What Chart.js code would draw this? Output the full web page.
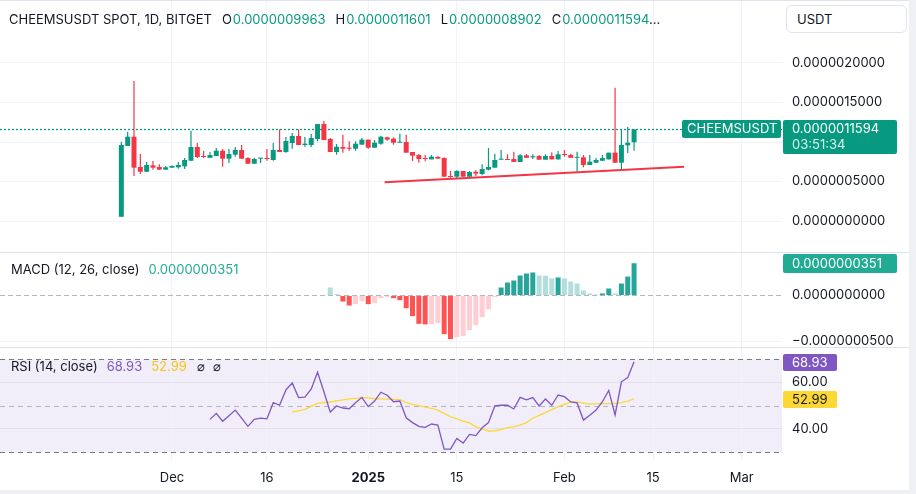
<!DOCTYPE html>
<html><head><meta charset="utf-8">
<script src="https://cdn.jsdelivr.net/npm/chart.js@4.4.1/dist/chart.umd.min.js"></script>
<style>
html,body{margin:0;padding:0}
body{width:916px;height:494px;overflow:hidden;position:relative;background:#eef0f4;font-family:Inter,"Noto Sans",sans-serif}
#panel{position:absolute;left:0;top:0;width:909px;height:490px;background:#fff}
canvas{position:absolute;left:0}
.lbl{position:absolute;font-size:13px;line-height:16px;color:#131722;white-space:nowrap}
.k{margin-left:10px}
.g{color:#089981;margin-left:1px}
.sep{position:absolute;left:0;width:909px;height:1px;background:#e0e3eb}
#unit{position:absolute;left:786px;top:5px;width:121px;height:28px;box-sizing:border-box;border:1px solid #e0e3eb;border-radius:6px;font-size:13px;line-height:26px;padding-left:10px;color:#131722;background:#fff}
</style></head>
<body>
<div id="panel"></div>
<canvas id="cPrice" width="916" height="252" style="top:0"></canvas>
<canvas id="cMacd" width="916" height="96" style="top:252px"></canvas>
<canvas id="cRsi" width="916" height="142" style="top:348px"></canvas>
<div class="sep" style="top:0"></div>
<div class="sep" style="top:252px"></div>
<div class="sep" style="top:347px"></div>
<div class="lbl" style="left:9px;top:11px">CHEEMSUSDT SPOT, 1D, BITGET<span class="k">O</span><span class="g" id="vO"></span><span class="k">H</span><span class="g" id="vH"></span><span class="k">L</span><span class="g" id="vL"></span><span class="k">C</span><span class="g" id="vC"></span><span>...</span></div>
<div id="unit">USDT</div>
<div class="lbl" style="left:11px;top:261px">MACD (12, 26, close)<span id="vM" style="color:#22ab94;margin-left:9px"></span></div>
<div class="lbl" style="left:11px;top:358px">RSI (14, close)<span id="vR" style="color:#7e57c2;margin-left:9px"></span><span id="vRM" style="color:#f5c518;margin-left:9px"></span><span style="margin-left:10px">⌀</span><span style="margin-left:8px">⌀</span></div>
<script>
// ---------- data ----------
const startDate = '2024-11-23';            // first daily candle
// prices in units of 1e-6 USDT
const open  = [0.054,0.949,1.067,0.684,0.624,0.705,0.684,0.65,0.675,0.68,0.692,0.763,0.937,0.823,0.80,0.823,0.89,0.789,0.84,0.899,0.797,0.725,0.789,0.797,0.772,0.899,0.873,0.987,1.076,0.962,0.962,1.038,1.228,1.038,0.873,0.937,0.928,0.915,0.966,1.03,0.928,0.978,1.059,1.042,0.991,1.0,0.873,0.835,0.793,0.78,0.81,0.797,0.565,0.561,0.633,0.561,0.624,0.595,0.65,0.675,0.776,0.78,0.785,0.747,0.831,0.806,0.823,0.776,0.823,0.78,0.848,0.835,0.80,0.806,0.709,0.738,0.763,0.78,0.865,0.738,0.958,0.9963];
const high  = [1.004,1.13,1.772,0.848,0.747,0.76,0.72,0.696,0.705,0.747,0.797,1.143,0.987,0.886,0.873,0.924,0.911,0.911,0.937,0.962,0.806,0.797,0.80,0.911,0.987,1.16,1.063,1.114,1.16,1.063,1.10,1.228,1.266,1.05,0.975,1.093,1.009,1.009,1.05,1.03,1.025,1.08,1.067,1.059,1.105,1.093,0.873,0.848,0.835,0.835,0.823,0.806,0.633,0.641,0.633,0.633,0.641,0.717,0.924,0.852,0.899,0.844,0.877,0.844,0.848,0.844,0.835,0.844,0.869,0.886,0.899,0.852,0.877,0.835,0.835,0.797,0.835,0.865,1.687,1.152,1.19,1.1601];
const low   = [0.054,0.949,0.57,0.595,0.62,0.65,0.649,0.65,0.67,0.66,0.658,0.763,0.797,0.797,0.80,0.823,0.687,0.734,0.814,0.789,0.725,0.725,0.734,0.763,0.763,0.873,0.865,0.915,0.962,0.94,0.937,1.009,1.025,0.873,0.84,0.865,0.89,0.89,0.966,0.915,0.928,0.966,1.016,0.966,0.991,0.865,0.76,0.738,0.755,0.78,0.789,0.561,0.55,0.544,0.561,0.548,0.57,0.58,0.641,0.675,0.776,0.772,0.747,0.747,0.80,0.785,0.776,0.776,0.78,0.78,0.814,0.80,0.624,0.68,0.709,0.734,0.76,0.78,0.738,0.658,0.861,0.8902];
const close = [0.962,1.067,0.675,0.624,0.709,0.675,0.65,0.68,0.696,0.709,0.772,0.937,0.81,0.81,0.835,0.89,0.789,0.848,0.899,0.789,0.725,0.785,0.797,0.785,0.899,0.873,1.013,1.076,0.962,0.979,1.05,1.228,1.025,0.873,0.94,0.915,0.915,0.978,1.03,0.928,0.991,1.067,1.03,0.991,0.996,0.865,0.827,0.785,0.785,0.814,0.789,0.561,0.557,0.633,0.561,0.62,0.6,0.658,0.684,0.772,0.785,0.772,0.747,0.831,0.80,0.82,0.776,0.823,0.78,0.844,0.835,0.80,0.806,0.709,0.751,0.772,0.797,0.865,0.738,0.962,0.991,1.1594];
// MACD histogram in units of 1e-8, starting at candle index 33
const macdStartIndex = 33;
const macdHist = [0.87,0.15,-0.66,-1.09,-0.94,-0.62,-0.94,-0.83,-0.29,-0.15,-0.29,-0.51,-1.38,-2.25,-3.08,-3.14,-3.12,-3.0,-4.2,-4.74,-4.53,-4.42,-3.77,-3.23,-2.35,-1.49,-0.19,0.87,1.41,1.63,2.17,2.39,2.5,2.17,2.15,1.85,1.96,1.85,1.52,1.30,0.55,0.22,0.11,0.22,0.76,0.22,1.30,2.06,3.51];
// RSI(14) starting at candle index 14, its MA starting at candle index 27
const rsiStartIndex = 14;
const rsiValues = [44.1,46.7,43.3,45.7,48.1,44.6,41.1,44.1,44.6,44.3,51.3,50.2,56.8,59.8,53.5,53.7,57.2,64.4,56.0,47.3,49.9,49.0,48.7,51.3,53.6,49.6,52.0,55.8,54.5,51.7,52.0,44.8,42.7,41.1,40.7,42.1,41.6,31.3,31.3,35.9,33.9,37.6,37.1,40.5,42.7,49.9,50.2,50.2,48.6,53.6,52.5,53.5,49.9,52.9,50.2,54.6,53.9,51.6,51.2,43.8,45.9,48.1,51.7,56.6,46.0,60.3,62.1,68.93];
const rsiMAStartIndex = 27;
const rsiMA = [47.3,47.8,48.4,49.7,51.0,51.3,51.6,52.1,52.5,52.9,53.2,53.5,53.4,53.0,52.9,52.8,52.7,52.6,51.3,50.6,50.0,49.4,48.8,48.1,46.7,45.3,44.3,43.4,42.6,41.0,40.0,39.1,39.2,39.8,40.5,41.0,41.6,42.7,44.6,45.8,47.0,48.3,49.6,50.6,51.5,51.6,51.1,50.7,50.8,50.9,50.9,50.9,51.3,52.0,52.99];
// trend line drawing (price units 1e-6)
const trendDates = ['2025-01-03T14:00:00Z','2025-02-19T22:00:00Z'];
const trendValues = [0.49, 0.687];
// axes
const priceTicks = [0, 0.5, 1, 1.5, 2];
const macdTicks = [-5, 0];
const rsiTicks = [40, 60];
const rsiBands = [70, 50, 30];
const xTickDates = ['2024-12-01','2024-12-16','2025-01-01','2025-01-15','2025-02-01','2025-02-15','2025-03-01'];
const xTickLabels = ['Dec','16','2025','15','Feb','15','Mar'];
const symbolTag = 'CHEEMSUSDT';
const countdown = '03:51:34';
const PRICE_UNIT = 1e-6, MACD_UNIT = 1e-8;

// ---------- helpers ----------
const GREEN = '#089981', RED = '#f23645', GRID = '#f0f3fa', TEXT = '#131722';
const FONT = 'Inter, "Noto Sans", sans-serif';
const EPOCH = Date.parse('2024-12-01T00:00:00Z'), DAY = 86400000;
const dayOf = s => (Date.parse(s.length === 10 ? s + 'T00:00:00Z' : s) - EPOCH) / DAY;
const day0 = dayOf(startDate);
const cDay = i => day0 + i;
const fmtP = v => (v * PRICE_UNIT).toFixed(10);
const fmtM = v => (v * MACD_UNIT).toFixed(10).replace('-', '\u2212');
const last = close.length - 1;

document.getElementById('vO').textContent = fmtP(open[last]);
document.getElementById('vH').textContent = fmtP(high[last]);
document.getElementById('vL').textContent = fmtP(low[last]);
document.getElementById('vC').textContent = fmtP(close[last]);
document.getElementById('vM').textContent = fmtM(macdHist[macdHist.length - 1]);
document.getElementById('vR').textContent = rsiValues[rsiValues.length - 1].toFixed(2);
document.getElementById('vRM').textContent = rsiMA[rsiMA.length - 1].toFixed(2);

Chart.defaults.font.family = FONT;
Chart.defaults.font.size = 13;
Chart.defaults.color = TEXT;

const X_MIN = -27.17, X_MAX = 96.37;
function xScale(show) {
  return {
    type: 'linear', min: X_MIN, max: X_MAX, offset: false,
    grid: { color: GRID, drawTicks: false, offset: false },
    border: { display: false },
    afterBuildTicks(a) { a.ticks = xTickDates.map(d => ({ value: dayOf(d) })); },
    ticks: {
      display: show, autoSkip: false, maxRotation: 0, padding: 9, color: TEXT,
      font: c => ({ family: FONT, size: 13, weight: xTickLabels[c.index] === '2025' ? 'bold' : 'normal' }),
      callback: (v, i) => xTickLabels[i]
    },
    afterFit(a) { a.height = show ? 29 : 0; a.paddingLeft = 0; a.paddingRight = 0; }
  };
}
function yScale(min, max, ticks, fmt, gridColor) {
  return {
    type: 'linear', position: 'right', min, max,
    grid: { color: gridColor, drawTicks: false },
    border: { display: false },
    afterBuildTicks(a) { a.ticks = ticks.map(v => ({ value: v })); },
    ticks: { padding: 10, color: TEXT, font: { family: FONT, size: 13 }, autoSkip: false, callback: fmt },
    afterFit(a) { a.width = 134; a.paddingTop = 0; a.paddingBottom = 0; }
  };
}
const baseOpts = {
  responsive: false, animation: false, events: [],
  layout: { padding: 0, autoPadding: false },
  plugins: { legend: { display: false }, tooltip: { enabled: false } }
};
function rbox(ctx, x, y, w, h, r, color) {
  ctx.fillStyle = color; ctx.beginPath();
  if (ctx.roundRect) ctx.roundRect(x, y, w, h, r); else ctx.rect(x, y, w, h);
  ctx.fill();
}

// ---------- price pane ----------
const candleColors = close.map((c, i) => c >= open[i] ? GREEN : RED);
new Chart(document.getElementById('cPrice'), {
  type: 'bar',
  data: { datasets: [
    { type: 'line', data: trendDates.map((d, i) => ({ x: dayOf(d), y: trendValues[i] })),
      borderColor: RED, borderWidth: 2, pointRadius: 0, order: 0 },
    { type: 'bar', data: open.map((o, i) => ({ x: cDay(i), y: [o, close[i]] })),
      backgroundColor: candleColors, grouped: false, categoryPercentage: 1, barPercentage: 0.85,
      maxBarThickness: 5, minBarLength: 1, borderWidth: 0, order: 1 },
    { type: 'bar', data: low.map((l, i) => ({ x: cDay(i), y: [l, high[i]] })),
      backgroundColor: candleColors, grouped: false, categoryPercentage: 1, barPercentage: 0.85,
      maxBarThickness: 1.2, minBarLength: 1, borderWidth: 0, order: 2 }
  ]},
  options: Object.assign({}, baseOpts, {
    scales: { x: xScale(false), y: yScale(-0.392, 2.797, priceTicks, fmtP, GRID) }
  }),
  plugins: [{
    id: 'lastPrice',
    beforeDatasetsDraw(chart) {
      const { ctx, chartArea: a } = chart; const y = Math.round(chart.scales.y.getPixelForValue(close[last])) + 0.5;
      ctx.save(); ctx.strokeStyle = GREEN; ctx.lineWidth = 1.3; ctx.setLineDash([2, 2]);
      ctx.beginPath(); ctx.moveTo(a.left, y); ctx.lineTo(a.right, y); ctx.stroke(); ctx.restore();
    },
    afterDraw(chart) {
      const { ctx, chartArea: a } = chart; const y = Math.round(chart.scales.y.getPixelForValue(close[last]));
      ctx.save();
      rbox(ctx, a.right - 100, y - 9, 99, 18, 2, GREEN);
      rbox(ctx, a.right + 1, y - 9, 114, 34, 2, GREEN);
      ctx.font = '13px ' + FONT; ctx.textBaseline = 'middle'; ctx.fillStyle = '#ffffff';
      ctx.fillText(symbolTag, a.right - 95, y + 0.5);
      ctx.fillText(fmtP(close[last]), a.right + 10, y + 0.5);
      ctx.fillStyle = 'rgba(255,255,255,0.85)';
      ctx.fillText(countdown, a.right + 10, y + 16.5);
      ctx.restore();
    }
  }]
});

// ---------- MACD pane ----------
const histColors = macdHist.map((v, i) => {
  const p = i > 0 ? macdHist[i - 1] : null;
  if (v >= 0) return (p !== null && v > p) ? '#26a69a' : '#b2dfdb';
  return (p !== null && v < p) ? '#ff5252' : '#ffcdd2';
});
new Chart(document.getElementById('cMacd'), {
  type: 'bar',
  data: { datasets: [
    { data: macdHist.map((v, i) => ({ x: cDay(macdStartIndex + i), y: v })),
      backgroundColor: histColors, grouped: false, categoryPercentage: 1, barPercentage: 0.85,
      maxBarThickness: 5, borderWidth: 0 }
  ]},
  options: Object.assign({}, baseOpts, {
    scales: { x: xScale(false),
      y: yScale(-5.707, 4.728, macdTicks, fmtM, c => (c.tick && c.tick.value === 0) ? 'rgba(0,0,0,0)' : GRID) }
  }),
  plugins: [{
    id: 'macdExtras',
    beforeDatasetsDraw(chart) {
      const { ctx, chartArea: a } = chart; const y = Math.round(chart.scales.y.getPixelForValue(0)) + 0.5;
      ctx.save(); ctx.strokeStyle = 'rgba(120,123,134,0.55)'; ctx.lineWidth = 1; ctx.setLineDash([5, 3]);
      ctx.beginPath(); ctx.moveTo(a.left, y); ctx.lineTo(a.right, y); ctx.stroke(); ctx.restore();
    },
    afterDraw(chart) {
      const { ctx, chartArea: a } = chart; const v = macdHist[macdHist.length - 1];
      const y = Math.round(chart.scales.y.getPixelForValue(v));
      ctx.save();
      rbox(ctx, a.right + 1, y - 9, 114, 19, 2, '#22ab94');
      ctx.font = '13px ' + FONT; ctx.textBaseline = 'middle'; ctx.fillStyle = '#ffffff';
      ctx.fillText(fmtM(v), a.right + 10, y + 1);
      ctx.restore();
    }
  }]
});

// ---------- RSI pane ----------
new Chart(document.getElementById('cRsi'), {
  type: 'line',
  data: { datasets: [
    { data: rsiValues.map((v, i) => ({ x: cDay(rsiStartIndex + i), y: v })),
      borderColor: '#7e57c2', borderWidth: 1.3, pointRadius: 0, tension: 0 },
    { data: rsiMA.map((v, i) => ({ x: cDay(rsiMAStartIndex + i), y: v })),
      borderColor: '#fdd835', borderWidth: 1.3, pointRadius: 0, tension: 0 }
  ]},
  options: Object.assign({}, baseOpts, {
    scales: { x: xScale(true), y: yScale(26.16, 74.87, rsiTicks, v => v.toFixed(2), 'rgba(42,46,57,0.07)') }
  }),
  plugins: [{
    id: 'rsiExtras',
    beforeDraw(chart) {
      const { ctx, chartArea: a } = chart; const s = chart.scales.y;
      const y1 = s.getPixelForValue(rsiBands[0]), y2 = s.getPixelForValue(rsiBands[2]);
      ctx.save(); ctx.fillStyle = 'rgba(126,87,194,0.1)';
      ctx.fillRect(a.left, y1, a.right - a.left, y2 - y1); ctx.restore();
    },
    beforeDatasetsDraw(chart) {
      const { ctx, chartArea: a } = chart; const s = chart.scales.y;
      ctx.save(); ctx.lineWidth = 1; ctx.setLineDash([5, 4]);
      rsiBands.forEach(b => {
        const y = Math.round(s.getPixelForValue(b)) + 0.5;
        ctx.strokeStyle = b === 50 ? 'rgba(120,123,134,0.5)' : '#787b86';
        ctx.beginPath(); ctx.moveTo(a.left, y); ctx.lineTo(a.right, y); ctx.stroke();
      });
      ctx.restore();
    },
    afterDraw(chart) {
      const { ctx, chartArea: a } = chart; const s = chart.scales.y;
      const r = rsiValues[rsiValues.length - 1], m = rsiMA[rsiMA.length - 1];
      ctx.save(); ctx.font = '13px ' + FONT; ctx.textBaseline = 'middle';
      let y = Math.round(s.getPixelForValue(r));
      rbox(ctx, a.right + 1, y - 8, 54, 17, 2, '#7e57c2');
      ctx.fillStyle = '#ffffff'; ctx.fillText(r.toFixed(2), a.right + 10, y + 1);
      y = Math.round(s.getPixelForValue(m));
      rbox(ctx, a.right + 1, y - 8, 54, 17, 2, '#fdd835');
      ctx.fillStyle = TEXT; ctx.fillText(m.toFixed(2), a.right + 10, y + 1);
      ctx.restore();
    }
  }]
});
</script>
</body></html>
